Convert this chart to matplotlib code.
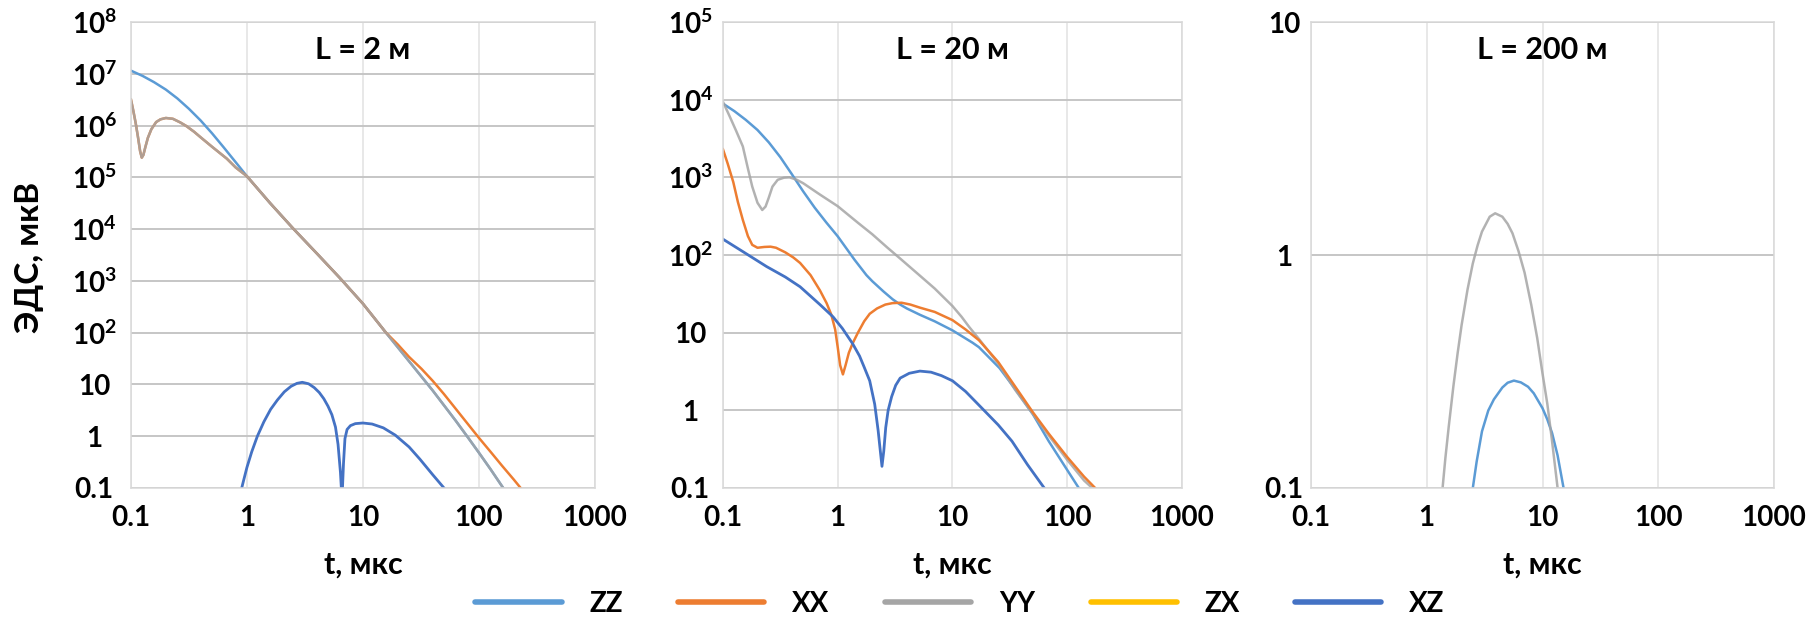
import matplotlib
matplotlib.use('agg')
import matplotlib.pyplot as plt
from matplotlib.lines import Line2D
from matplotlib.ticker import NullLocator

plt.rcParams['font.family'] = ['Lato', 'DejaVu Sans']
plt.rcParams['font.weight'] = 'bold'
plt.rcParams['mathtext.fontset'] = 'custom'
plt.rcParams['mathtext.rm'] = 'Lato:bold'
plt.rcParams['mathtext.bf'] = 'Lato:bold'
plt.rcParams['mathtext.it'] = 'Lato:bold'

# series names and colours (Excel palette)
NAMES = ['ZZ', 'XX', 'YY', 'ZX', 'XZ']
COLORS = ['#5b9bd5', '#ed7d31', '#a5a5a5', '#ffc000', '#4472c4']

TITLES = ['L = 2 м', 'L = 20 м', 'L = 200 м']
YMAX_EXP = [8, 5, 1]
X_TICKS = [0.1, 1, 10, 100, 1000]
X_TICK_LABELS = ['0.1', '1', '10', '100', '1000']

# ---- L = 2 m ----
t_zz_2 = [0.1, 0.126, 0.158, 0.2, 0.251, 0.316, 0.398, 0.5, 0.63, 0.794, 1.0, 1.58, 2.5, 4.0, 6.3, 10, 15.8, 25,
          40, 63, 79, 100, 126, 162, 200]
v_zz_2 = [1.15e7, 9.1e6, 6.9e6, 4.95e6, 3.35e6, 2.11e6, 1.26e6, 7.1e5, 3.8e5, 2.0e5, 1.05e5, 3.2e4, 1.03e4,
          3.4e3, 1.15e3, 363, 100, 28, 7.6, 2.0, 1.0, 0.48, 0.23, 0.1, 0.05]
t_xx_2 = [0.1, 0.105, 0.11, 0.115, 0.12, 0.124, 0.128, 0.133, 0.14, 0.15, 0.165, 0.18, 0.2, 0.23, 0.266, 0.3,
          0.35, 0.4, 0.5, 0.67, 0.8, 1.0, 1.58, 2.5, 4.0, 6.3, 10, 15.8, 20, 25, 32, 40, 50, 63, 79, 100, 126, 158,
          200, 229, 251]
v_xx_2 = [3.2e6, 1.9e6, 1.1e6, 6.0e5, 3.2e5, 2.4e5, 2.7e5, 3.8e5, 5.8e5, 8.5e5, 1.17e6, 1.32e6, 1.4e6, 1.35e6,
          1.15e6, 9.8e5, 7.6e5, 5.9e5, 3.9e5, 2.3e5, 1.55e5, 1.05e5, 3.2e4, 1.03e4, 3.4e3, 1.15e3, 363, 100, 59,
          34, 20, 11.7, 6.5, 3.4, 1.8, 0.93, 0.5, 0.27, 0.145, 0.1, 0.078]
t_yy_2 = [0.1, 0.105, 0.11, 0.115, 0.12, 0.124, 0.128, 0.133, 0.14, 0.15, 0.165, 0.18, 0.2, 0.23, 0.266, 0.3,
          0.35, 0.4, 0.5, 0.67, 0.8, 1.0, 1.58, 2.5, 4.0, 6.3, 10, 15.8, 25, 40, 63, 79, 100, 126, 162, 200]
v_yy_2 = [3.2e6, 1.9e6, 1.1e6, 6.0e5, 3.2e5, 2.4e5, 2.7e5, 3.8e5, 5.8e5, 8.5e5, 1.17e6, 1.32e6, 1.4e6, 1.35e6,
          1.15e6, 9.8e5, 7.6e5, 5.9e5, 3.9e5, 2.3e5, 1.55e5, 1.05e5, 3.2e4, 1.03e4, 3.4e3, 1.15e3, 363, 100, 28,
          7.6, 2.0, 1.0, 0.48, 0.23, 0.1, 0.05]
t_xz_2 = [0.88, 0.92, 1.0, 1.1, 1.23, 1.4, 1.6, 1.83, 2.1, 2.4, 2.7, 3.0, 3.4, 3.8, 4.2, 4.6, 5.0, 5.4, 5.8, 6.1,
          6.4, 6.6, 6.8, 7.0, 7.3, 7.8, 8.6, 10, 12, 15, 19, 25, 31, 40, 50, 55]
v_xz_2 = [0.08, 0.12, 0.25, 0.5, 1.0, 1.9, 3.3, 5.0, 7.2, 9.2, 10.5, 11, 10.3, 8.7, 7.0, 5.3, 3.8, 2.6, 1.5, 0.7,
          0.2, 0.06, 0.3, 0.9, 1.35, 1.6, 1.75, 1.8, 1.72, 1.45, 1.05, 0.62, 0.36, 0.18, 0.1, 0.075]

# ---- L = 20 m ----
t_zz_20 = [0.1, 0.126, 0.158, 0.2, 0.251, 0.316, 0.398, 0.5, 0.63, 0.794, 1.0, 1.4, 1.78, 2.0, 2.5, 3.0, 3.5,
           4.0, 5.2, 7.0, 10, 15, 17, 25.7, 35, 50, 69, 100, 126]
v_zz_20 = [8900, 7100, 5500, 4070, 2820, 1820, 1100, 660, 407, 263, 174, 87, 55, 46, 34, 27, 23, 20.5, 17, 14,
           10.7, 7.4, 6.5, 3.5, 1.9, 0.9, 0.4, 0.17, 0.1]
t_xx_20 = [0.1, 0.11, 0.123, 0.135, 0.149, 0.165, 0.18, 0.2, 0.23, 0.26, 0.29, 0.35, 0.41, 0.47, 0.58, 0.7, 0.8,
           0.88, 0.95, 1.0, 1.05, 1.11, 1.17, 1.25, 1.35, 1.5, 1.7, 1.9, 2.2, 2.6, 3.0, 3.6, 4.3, 5.2, 7, 10, 13,
           17, 25, 35.7, 50, 69, 100, 140, 175]
v_xx_20 = [2300, 1500, 870, 480, 283, 175, 135, 124, 127, 128, 124, 108, 93, 79, 55, 35, 24, 17, 11, 6.5, 3.8,
           2.9, 3.8, 5.5, 7.3, 10, 14, 17.5, 20.5, 23, 24, 24.3, 23, 21, 18.5, 14.5, 11, 8, 4.2, 1.96, 0.95, 0.5,
           0.25, 0.14, 0.1]
t_yy_20 = [0.1, 0.115, 0.13, 0.149, 0.165, 0.18, 0.2, 0.22, 0.235, 0.25, 0.27, 0.3, 0.34, 0.38, 0.44, 0.5, 0.7,
           1.0, 1.5, 2.0, 2.7, 3.5, 5, 7, 10, 12, 14, 17, 25, 35, 50, 70, 100, 140, 165]
v_yy_20 = [9400, 6000, 4000, 2500, 1300, 760, 470, 380, 420, 540, 760, 930, 990, 1000, 930, 840, 600, 425, 260,
           185, 125, 90, 57, 37, 22, 16, 11.8, 8.3, 4.0, 1.85, 0.9, 0.46, 0.23, 0.125, 0.1]
t_xz_20 = [0.1, 0.15, 0.24, 0.35, 0.47, 0.7, 0.91, 1.1, 1.35, 1.55, 1.7, 1.9, 2.1, 2.25, 2.35, 2.43, 2.52, 2.62,
           2.75, 2.95, 3.2, 3.5, 4.2, 5.2, 6.5, 8, 10, 13, 18, 25, 33, 45, 63]
v_xz_20 = [160, 110, 71, 52, 39, 23, 16, 11.3, 7.2, 5.0, 3.6, 2.4, 1.2, 0.55, 0.3, 0.19, 0.3, 0.6, 1.0, 1.5,
           2.1, 2.6, 3.0, 3.2, 3.1, 2.8, 2.4, 1.75, 1.07, 0.65, 0.4, 0.2, 0.1]

# ---- L = 200 m ----
t_zz_200 = [2.5, 2.7, 3.0, 3.4, 3.8, 4.5, 5.0, 5.66, 6.5, 7.5, 8.4, 10, 11, 12.1, 13.5, 15.2]
v_zz_200 = [0.1, 0.13, 0.175, 0.215, 0.24, 0.27, 0.283, 0.289, 0.284, 0.272, 0.255, 0.22, 0.197, 0.172, 0.138,
            0.1]
t_yy_200 = [1.37, 1.45, 1.55, 1.7, 1.85, 2.0, 2.25, 2.5, 2.75, 3.0, 3.5, 3.9, 4.5, 5.0, 5.5, 6.2, 7.0, 8.0, 9.0,
            10, 11, 12, 13.5]
v_yy_200 = [0.1, 0.135, 0.184, 0.274, 0.38, 0.5, 0.71, 0.92, 1.1, 1.26, 1.46, 1.51, 1.46, 1.36, 1.24, 1.04,
            0.84, 0.61, 0.44, 0.31, 0.23, 0.164, 0.1]

# drawing order per panel (later = on top)
panels = [
    [('ZZ', t_zz_2, v_zz_2), ('XX', t_xx_2, v_xx_2), ('YY', t_yy_2, v_yy_2), ('XZ', t_xz_2, v_xz_2)],
    [('ZZ', t_zz_20, v_zz_20), ('YY', t_yy_20, v_yy_20), ('XX', t_xx_20, v_xx_20), ('XZ', t_xz_20, v_xz_20)],
    [('ZZ', t_zz_200, v_zz_200), ('YY', t_yy_200, v_yy_200)],
]

RECTS = [[0.0721, 0.2217, 0.2555, 0.7432],
         [0.3981, 0.2217, 0.2528, 0.7432],
         [0.7219, 0.2217, 0.2550, 0.7432]]
YPADS = [26.5, 23.5, 19.5]

fig = plt.figure(figsize=(18.16, 6.27), dpi=100)

for rect, curves, title, ymax, ypad in zip(RECTS, panels, TITLES, YMAX_EXP, YPADS):
    ax = fig.add_axes(rect)
    for name, t, v in curves:
        c = COLORS[NAMES.index(name)]
        lw = 2.0 if name == 'XZ' else 1.8
        alpha = 0.85 if name == 'YY' else 1.0
        ax.plot(t, v, color=c, lw=lw, alpha=alpha, solid_joinstyle='round')
    ax.set_xscale('log')
    ax.set_yscale('log')
    ax.set_xlim(0.1, 1000)
    ax.set_ylim(0.1, 10.0 ** ymax)
    ax.set_xticks(X_TICKS, X_TICK_LABELS)
    yt = [10.0 ** k for k in range(-1, ymax + 1)]
    ylab = ['0.1', '1', '10'] + [r'$\mathbf{10^{%d}}$' % k for k in range(2, ymax + 1)]
    ax.set_yticks(yt, ylab[:len(yt)])
    ax.xaxis.set_minor_locator(NullLocator())
    ax.yaxis.set_minor_locator(NullLocator())
    ax.tick_params(axis='both', length=0, labelsize=20)
    ax.tick_params(axis='x', pad=12)
    ax.tick_params(axis='y', pad=ypad)
    for lbl in ax.get_yticklabels():
        lbl.set_horizontalalignment('center')
    ax.grid(axis='y', color='#c6c6c6', lw=1.4)
    ax.grid(axis='x', color='#e2e2e2', lw=1.1)
    ax.set_axisbelow(True)
    for s in ax.spines.values():
        s.set_color('#d9d9d9')
        s.set_linewidth(1.1)
    ax.text(0.5, 0.94, title, transform=ax.transAxes, ha='center', va='center',
            fontsize=22, fontweight='bold')
    ax.set_xlabel('t, мкс', fontsize=22, fontweight='bold', labelpad=14)

fig.text(30 / 1816, 0.59, 'ЭДС, мкВ', rotation=90, ha='center', va='center',
         fontsize=24, fontweight='bold')

handles = [Line2D([], [], color=c, lw=4, solid_capstyle='round') for c in COLORS]
fig.legend(handles, NAMES, loc='center', bbox_to_anchor=(960 / 1816, 0.037), ncol=5, frameon=False,
           fontsize=20, handlelength=3.1, handletextpad=1.0, columnspacing=2.0)

fig.savefig('out.png', dpi=100)
